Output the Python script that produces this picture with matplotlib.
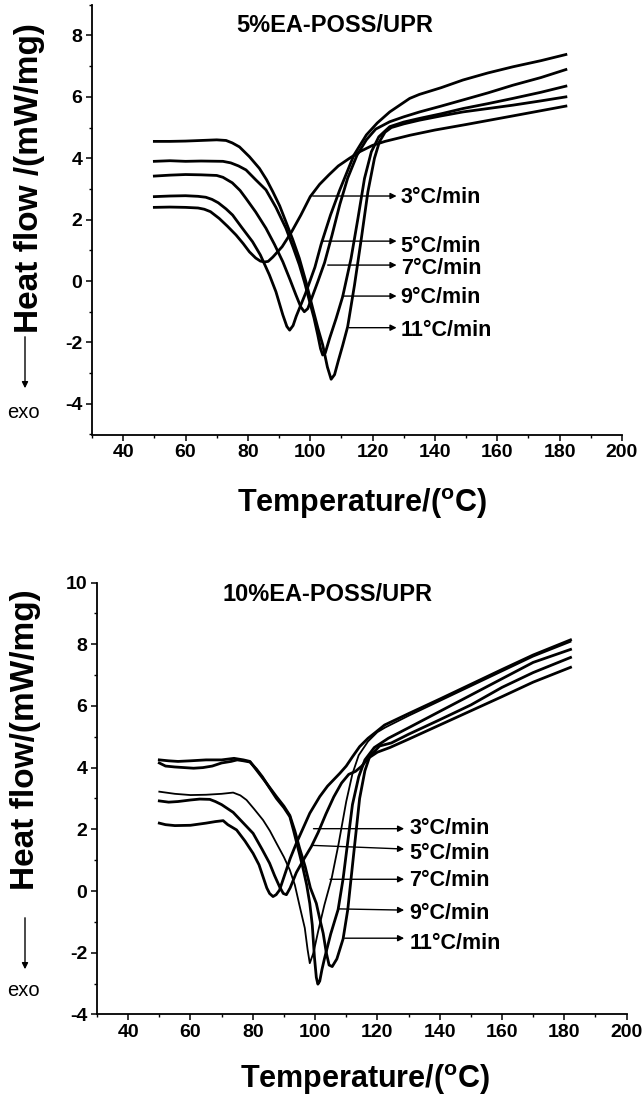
import matplotlib
matplotlib.use("Agg")
import matplotlib.pyplot as plt
from matplotlib.ticker import MultipleLocator

plt.rcParams['font.family'] = ['Liberation Sans', 'DejaVu Sans']
plt.rcParams['axes.unicode_minus'] = False
plt.rcParams['mathtext.fontset'] = 'custom'
plt.rcParams['mathtext.rm'] = 'Liberation Sans:bold'
plt.rcParams['mathtext.it'] = 'Liberation Sans:bold'
plt.rcParams['mathtext.bf'] = 'Liberation Sans:bold'

rates = ['3°C/min', '5°C/min', '7°C/min', '9°C/min', '11°C/min']

# ---- 5% EA-POSS/UPR (top panel) ----
a3_x = [50, 55, 60, 64, 66, 68, 70.8, 73.5, 76.2, 78.5, 80.5, 82.5, 84, 85.3, 86.5, 88, 91, 94, 97, 100,
        103, 106, 109, 112.6, 116, 120, 124, 132, 140, 150, 165, 182]
a3_y = [2.40, 2.41, 2.40, 2.38, 2.34, 2.26, 2.04, 1.78, 1.50, 1.22, 0.95, 0.75, 0.65, 0.62, 0.64, 0.78, 1.12, 1.60,
        2.15, 2.75, 3.15, 3.46, 3.75, 4.00, 4.22, 4.42, 4.55, 4.75, 4.92, 5.10, 5.38, 5.70]

a5_x = [50, 55, 60, 64, 66.5, 68.5, 70.5, 73, 75.1, 78, 81.5, 84, 86.9, 89, 91.2, 92.5, 93.4, 94.5, 95.5,
        98.5, 101.5, 103.5, 106.5, 109.4, 112, 114, 118, 121.5, 125.5, 131.9, 135, 142, 149, 157, 165, 174, 182]
a5_y = [2.75, 2.77, 2.78, 2.76, 2.73, 2.66, 2.55, 2.35, 2.15, 1.75, 1.28, 0.85, 0.20, -0.35, -1.10, -1.48, -1.60,
        -1.45, -1.15, -0.40, 0.45, 1.20, 2.15, 2.95, 3.60, 4.10, 4.76, 5.15, 5.51, 5.95, 6.08, 6.30, 6.55, 6.78,
        6.98, 7.18, 7.38]

a7_x = [50, 55, 60, 65, 70, 72, 75, 77.5, 79.4, 82.5, 85.8, 88.5, 91.2, 93.5, 95.4, 97, 98.1, 99.2, 100.5,
        102.5, 104.6, 107, 109.5, 112, 115, 118, 121, 125.5, 130, 135.1, 142, 149, 157, 165, 174, 182]
a7_y = [3.42, 3.45, 3.47, 3.46, 3.44, 3.38, 3.20, 2.95, 2.69, 2.25, 1.72, 1.20, 0.63, 0.05, -0.45, -0.85, -1.00,
        -0.90, -0.55, 0.00, 0.60, 1.50, 2.50, 3.35, 4.10, 4.60, 4.95, 5.19, 5.35, 5.51, 5.70, 5.90, 6.13, 6.38,
        6.63, 6.89]

a9_x = [50, 55, 60, 65, 72, 74.5, 77, 79.4, 82.5, 85.8, 89, 92.2, 94.5, 96.5, 98.2, 99.8, 101.2, 102.4, 103.3,
        104, 104.8, 106.2, 108.3, 110.4, 113.1, 115.3, 117.4, 119.6, 122, 125.5, 130, 135.1, 142, 149, 157, 165,
        174, 182]
a9_y = [3.90, 3.92, 3.90, 3.91, 3.90, 3.85, 3.75, 3.62, 3.30, 2.97, 2.40, 1.72, 1.10, 0.53, -0.05, -0.67, -1.20,
        -1.75, -2.20, -2.41, -2.35, -1.87, -1.22, -0.51, 0.74, 2.04, 3.34, 4.21, 4.70, 5.03, 5.18, 5.30, 5.45,
        5.62, 5.78, 5.95, 6.15, 6.35]

a11_x = [50, 55, 60, 65, 70, 73, 75, 77.3, 80.5, 83.7, 86, 88, 90.2, 92.2, 94.4, 96.5, 98.7, 100.8, 102.5, 104,
         105.5, 106.7, 107.8, 109, 110.4, 112, 114.2, 116.4, 118.5, 120.6, 122.2, 124, 126, 130, 135, 142, 149,
         157, 165, 174, 182]
a11_y = [4.55, 4.55, 4.56, 4.58, 4.60, 4.58, 4.50, 4.37, 4.05, 3.67, 3.30, 2.91, 2.45, 1.93, 1.35, 0.74, -0.05,
         -0.89, -1.55, -2.08, -2.80, -3.20, -3.05, -2.60, -2.10, -1.49, -0.13, 1.39, 2.91, 4.00, 4.54, 4.85,
         5.00, 5.12, 5.24, 5.38, 5.51, 5.62, 5.73, 5.87, 6.00]

# ---- 10% EA-POSS/UPR (bottom panel) ----
b3_x = [50, 52, 55, 60, 65, 68, 70.5, 72, 74.8, 77.5, 80.1, 82, 83.3, 84.5, 85.4, 86.5, 87.5, 88.6, 90, 92, 94,
        96, 98.3, 101.5, 104, 107.9, 110, 112, 114.3, 117, 119.5, 122.3, 130, 140, 150, 160, 170, 182]
b3_y = [2.20, 2.15, 2.12, 2.13, 2.20, 2.25, 2.28, 2.15, 1.98, 1.62, 1.22, 0.85, 0.46, 0.10, -0.08, -0.18, -0.12,
        0.03, 0.45, 1.05, 1.55, 2.00, 2.52, 3.06, 3.40, 3.81, 4.05, 4.35, 4.68, 4.95, 5.15, 5.38, 5.75, 6.22,
        6.70, 7.18, 7.65, 8.14]

b5_x = [50, 53, 56, 60, 63, 66.2, 68, 70, 73.7, 77, 80.1, 83, 85.4, 87, 88.6, 89.8, 90.8, 92, 94, 96.5, 98.8,
        101, 103.5, 106, 108.5, 110.8, 113, 115, 117, 120, 124, 130, 140, 150, 160, 170, 182]
b5_y = [2.92, 2.88, 2.90, 2.95, 2.98, 2.97, 2.90, 2.80, 2.55, 2.20, 1.87, 1.35, 0.90, 0.50, 0.14, -0.08, -0.12,
        0.10, 0.60, 1.05, 1.44, 1.90, 2.50, 3.05, 3.50, 3.78, 3.88, 4.05, 4.30, 4.50, 4.65, 4.92, 5.38, 5.84,
        6.30, 6.77, 7.25]

b7_x = [50, 55, 60, 65, 70, 73.7, 76, 78, 80.5, 83.3, 85.5, 87.6, 90, 91.9, 93.5, 95.1, 96.7, 97.6, 98.3, 99.5,
        101, 103, 105.3, 107.5, 110, 112, 114, 117, 120, 122.5, 130, 140, 150, 160, 170, 182]
b7_y = [3.22, 3.15, 3.11, 3.12, 3.15, 3.19, 3.10, 2.95, 2.65, 2.30, 1.95, 1.55, 1.10, 0.68, 0.20, -0.51, -1.20,
        -1.90, -2.34, -2.00, -1.30, -0.45, 0.40, 1.50, 2.90, 3.80, 4.40, 4.85, 5.15, 5.30, 5.68, 6.16, 6.64,
        7.12, 7.60, 8.08]

b9_x = [50, 52, 55, 58, 61, 64, 67, 70, 73, 75, 77, 79.1, 81.2, 83.1, 85, 87.6, 90, 91.9, 93, 94, 95, 96.1,
        97.3, 98.3, 99.1, 99.8, 100.4, 100.9, 101.5, 102.2, 103, 105, 107.4, 109, 110.5, 112, 114, 116, 119, 123.5,
        130, 140, 150, 160, 170, 182]
b9_y = [4.15, 4.05, 4.02, 4.00, 3.98, 4.00, 4.05, 4.15, 4.20, 4.25, 4.22, 4.18, 3.95, 3.70, 3.40, 3.00, 2.70,
        2.41, 2.00, 1.60, 1.20, 0.75, 0.20, -0.40, -1.10, -2.15, -2.80, -3.02, -2.92, -2.55, -2.20, -1.40, -0.60,
        0.40, 1.60, 2.80, 3.70, 4.25, 4.65, 4.95, 5.29, 5.82, 6.35, 6.88, 7.41, 7.83]

b11_x = [50, 53, 56, 60, 65, 70, 74, 77, 79.1, 81.2, 84, 87.6, 90, 91.9, 93.5, 95, 96.8, 98.5, 100.4, 101.5,
         102.6, 103.6, 104.5, 105.5, 107, 109, 110.5, 112.5, 114.3, 116, 117.5, 120.7, 124.5, 130, 140, 150, 160,
         170, 182]
b11_y = [4.25, 4.22, 4.20, 4.22, 4.25, 4.25, 4.30, 4.25, 4.20, 3.92, 3.55, 3.06, 2.75, 2.45, 1.95, 1.40, 0.80,
         0.10, -0.40, -0.90, -1.37, -2.00, -2.40, -2.45, -2.20, -1.55, -0.60, 1.30, 3.00, 3.90, 4.35, 4.70, 4.80,
         5.08, 5.55, 6.03, 6.60, 7.08, 7.57]

top_curves = [(a3_x, a3_y), (a5_x, a5_y), (a7_x, a7_y), (a9_x, a9_y), (a11_x, a11_y)]
bot_curves = [(b3_x, b3_y), (b5_x, b5_y), (b7_x, b7_y), (b9_x, b9_y), (b11_x, b11_y)]
bot_widths = [2.0, 2.0, 1.3, 2.0, 2.0]

# arrow start (x, y), arrow end y, label y
top_arrow_x0 = [100.8, 103.6, 105.6, 110.3, 112.5]
top_arrow_y0 = [2.77, 1.30, 0.52, -0.49, -1.52]
top_arrow_y1 = [2.77, 1.30, 0.52, -0.49, -1.52]
top_text_y = [2.72, 1.12, 0.40, -0.55, -1.62]
bot_arrow_x0 = [99.5, 98.9, 104.8, 107.5, 109.5]
bot_arrow_y0 = [2.02, 1.48, 0.38, -0.58, -1.53]
bot_arrow_y1 = [2.02, 1.36, 0.38, -0.62, -1.53]
bot_text_y = [2.02, 1.22, 0.35, -0.72, -1.70]

W, H = 643, 1109
fig = plt.figure(figsize=(W / 100, H / 100), dpi=100)


def fx(px):
    return px / W


def fy(py):
    return 1 - py / H


def setup(ax, ylim):
    ax.set_xlim(30, 200)
    ax.set_ylim(*ylim)
    for s in ['top', 'right']:
        ax.spines[s].set_visible(False)
    for s in ['left', 'bottom']:
        ax.spines[s].set_linewidth(1.3)
    ax.xaxis.set_major_locator(MultipleLocator(20))
    ax.xaxis.set_minor_locator(MultipleLocator(10))
    ax.yaxis.set_major_locator(MultipleLocator(2))
    ax.yaxis.set_minor_locator(MultipleLocator(1))
    ax.set_xticks(range(40, 201, 20))
    ax.tick_params(which='major', direction='out', length=4, width=1.1, labelsize=14, pad=3)
    ax.tick_params(which='minor', direction='out', length=2.5, width=1.0)
    for lab in ax.get_xticklabels() + ax.get_yticklabels():
        lab.set_fontweight('bold')


def arrows(ax, x0s, y0s, y1s, tys, x1, tx):
    for lab, x0, y0, y1, ty in zip(rates, x0s, y0s, y1s, tys):
        ax.annotate('', xy=(x1, y1), xytext=(x0, y0),
                    arrowprops=dict(arrowstyle='-|>', color='black', lw=1.0, mutation_scale=9,
                                    shrinkA=0, shrinkB=0))
        ax.text(tx, ty, lab, fontsize=15.5, fontweight='bold', va='center', ha='left')


# top panel
ax1 = fig.add_axes([fx(92), fy(434.5), fx(530), 429.7 / H])
setup(ax1, (-5, 9))
ax1.set_yticks(range(-4, 9, 2))
for cx, cy in top_curves:
    ax1.plot(cx, cy, color='black', lw=2.0, solid_joinstyle='round')
arrows(ax1, top_arrow_x0, top_arrow_y0, top_arrow_y1, top_text_y, 127.7, 129.0)
ax1.text(108, 8.34, '5%EA-POSS/UPR', fontsize=17, fontweight='bold', ha='center', va='center')

# bottom panel
ax2 = fig.add_axes([fx(97), fy(1014.4), fx(529.6), 431.9 / H])
setup(ax2, (-4, 10))
ax2.set_yticks(range(-4, 11, 2))
for (cx, cy), lw in zip(bot_curves, bot_widths):
    ax2.plot(cx, cy, color='black', lw=lw, solid_joinstyle='round')
arrows(ax2, bot_arrow_x0, bot_arrow_y0, bot_arrow_y1, bot_text_y, 128.6, 130.2)
ax2.text(104, 9.6, '10%EA-POSS/UPR', fontsize=17, fontweight='bold', ha='center', va='center')

# axis titles and exo markers
fig.text(fx(30), fy(178), 'Heat flow /(mW/mg)', rotation=90, fontsize=24, fontweight='bold',
         ha='center', va='center')
fig.text(fx(26), fy(740), 'Heat flow/(mW/mg)', rotation=90, fontsize=24, fontweight='bold',
         ha='center', va='center')
fig.text(fx(362), fy(504), 'Temperature/($^{\\rm o}$C)', fontsize=22, fontweight='bold',
         ha='center', va='center')
fig.text(fx(365), fy(1080), 'Temperature/($^{\\rm o}$C)', fontsize=22, fontweight='bold',
         ha='center', va='center')

for y_top, y_tip, y_exo in [(334, 391, 412), (915, 972, 991)]:
    fig.add_artist(matplotlib.patches.FancyArrowPatch(
        (fx(25), fy(y_top)), (fx(25), fy(y_tip)), transform=fig.transFigure,
        arrowstyle='-|>', mutation_scale=9, lw=1.0, color='black'))
    fig.text(fx(23), fy(y_exo), 'exo', fontsize=14.5, ha='center', va='center')

fig.savefig('out.png', dpi=100)
